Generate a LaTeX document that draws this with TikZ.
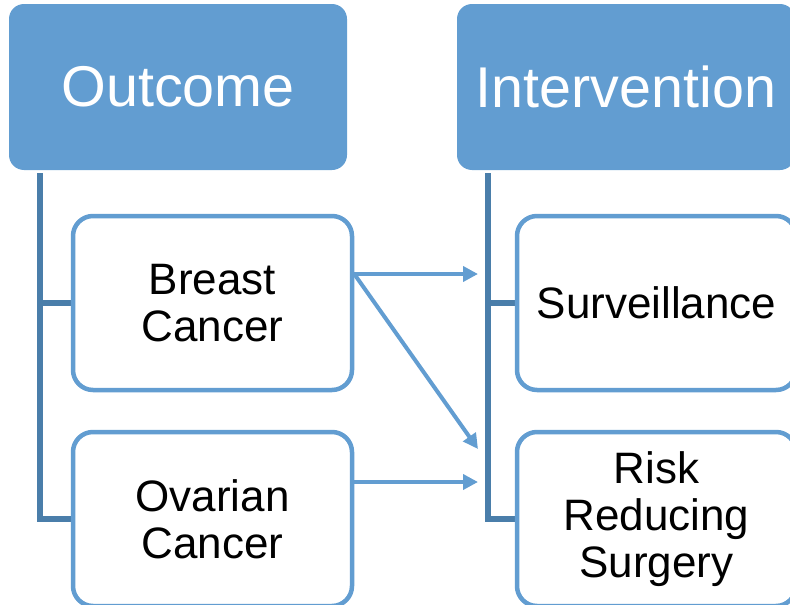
\documentclass[tikz,border=0pt]{standalone}
\usepackage{fontspec}
\setmainfont{Liberation Sans}
\usetikzlibrary{arrows.meta,calc,backgrounds}
\definecolor{hdrblue}{RGB}{98,157,209}
\definecolor{linkblue}{RGB}{74,126,170}
\begin{document}
\begin{tikzpicture}[x=1pt,y=-1pt,
  header/.style={rectangle, rounded corners=15pt, fill=hdrblue, draw=none,
    minimum width=338pt, minimum height=166pt, text=white,
    font=\fontsize{57.5}{60}\selectfont, inner sep=0pt},
  item/.style={rectangle, rounded corners=20pt, draw=hdrblue, line width=4.5pt,
    fill=white, minimum width=279pt, minimum height=174pt,
    font=\fontsize{44}{47}\selectfont, align=center, inner sep=0pt},
  tree/.style={draw=linkblue, line width=5.5pt},
  flow/.style={draw=hdrblue, line width=4pt,
    -{Triangle[length=15pt,width=15pt]}}]
\useasboundingbox (0,0) rectangle (790,605);

% column headers
\node[header] (outcome) at (178,87) {Outcome};
\node[header] (intervention) at (626,87) {Intervention};

% items
\node[item] (breast) at (212.5,303) {Breast\\Cancer};
\node[item] (ovarian) at (212.5,519) {Ovarian\\Cancer};
\node[item] (surv) at (656.5,303) {Surveillance};
\node[item] (risk) at (656.5,519) {Risk\\Reducing\\Surgery};

% hierarchy lines under each header
\coordinate (otrunk) at (40,173);
\coordinate (itrunk) at (488,173);
\begin{scope}[on background layer]
  \draw[tree] (otrunk) |- (ovarian.west);
  \draw[tree] (otrunk |- breast.west) -- (breast.west);
  \draw[tree] (itrunk) |- (risk.west);
  \draw[tree] (itrunk |- surv.west) -- (surv.west);
\end{scope}

% links between outcomes and interventions
\coordinate (bsrc) at ($(breast.east)+(0,-29)$);
\coordinate (osrc) at ($(ovarian.east)+(0,-37)$);
\coordinate (survin) at (478,274);
\coordinate (riskin) at (478,449);
\coordinate (riskin2) at (478,482);
\draw[flow] (bsrc) -- (survin);
\draw[flow] (bsrc) -- (riskin);
\draw[flow] (osrc) -- (riskin2);
\end{tikzpicture}
\end{document}
